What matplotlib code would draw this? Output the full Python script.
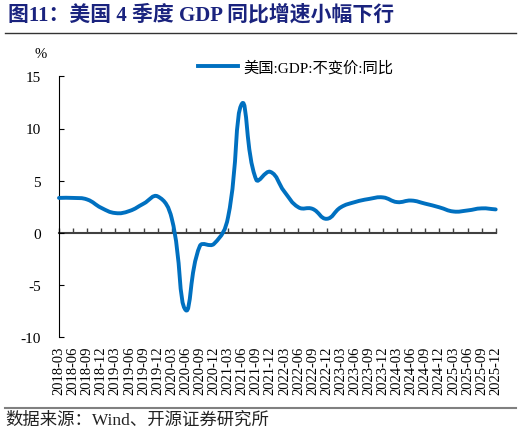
import matplotlib
matplotlib.use("Agg")
import math
import matplotlib.pyplot as plt
from matplotlib.path import Path
from matplotlib.patches import PathPatch
from matplotlib.lines import Line2D

# ---- data ----
categories = ["2018-03", "2018-06", "2018-09", "2018-12",
              "2019-03", "2019-06", "2019-09", "2019-12",
              "2020-03", "2020-06", "2020-09", "2020-12",
              "2021-03", "2021-06", "2021-09", "2021-12",
              "2022-03", "2022-06", "2022-09", "2022-12",
              "2023-03", "2023-06", "2023-09", "2023-12",
              "2024-03", "2024-06", "2024-09", "2024-12",
              "2025-03", "2025-06", "2025-09", "2025-12"]
gdp_yoy = [3.35, 3.35, 3.2, 2.4,
           1.9, 2.1, 2.8, 3.5,
           1.4, -7.4, -1.25, -1.05,
           1.5, 12.4, 5.1, 5.85,
           3.95, 2.45, 2.3, 1.35,
           2.45, 2.95, 3.25, 3.4,
           2.95, 3.1, 2.8, 2.45,
           2.05, 2.15, 2.35, 2.25]
series_name = "美国:GDP:不变价:同比"
y_ticks = [-10, -5, 0, 5, 10, 15]
title = "图11：美国 4 季度 GDP 同比增速小幅下行"
source = "数据来源：Wind、开源证券研究所"

FAM = ["Liberation Serif", "Noto Sans CJK SC"]
plt.rcParams["font.family"] = FAM
LINE_COLOR = "#0070C0"

W, H = 522, 439
AX_L, AX_R, AX_T, AX_B = 59, 495.7, 77.3, 338.3
fig = plt.figure(figsize=(W / 100, H / 100), dpi=100)
ax = fig.add_axes([AX_L / W, 1 - AX_B / H, (AX_R - AX_L) / W, (AX_B - AX_T) / H])

x = list(range(len(categories)))
YMIN, YMAX = -10, 15
sx = (AX_R - AX_L) / (len(categories) - 1)   # px per category
sy = (AX_B - AX_T) / (YMAX - YMIN)           # px per unit


def smooth_path(xs, ys, s=0.45):
    """Distance-weighted bezier smoothing (like office-chart smoothing)."""
    n = len(xs)
    cps = []
    for i in range(n):
        ip = max(i - 1, 0)
        inx = min(i + 1, n - 1)
        vx = xs[inx] - xs[ip]
        vy = ys[inx] - ys[ip]
        d0 = math.hypot((xs[i] - xs[ip]) * sx, (ys[i] - ys[ip]) * sy)
        d1 = math.hypot((xs[inx] - xs[i]) * sx, (ys[inx] - ys[i]) * sy)
        tot = d0 + d1 if d0 + d1 > 0 else 1
        r0 = d0 / tot
        r1 = d1 / tot
        cps.append(((xs[i] - vx * s * r0, ys[i] - vy * s * r0),
                    (xs[i] + vx * s * r1, ys[i] + vy * s * r1)))
    verts = [(xs[0], ys[0])]
    codes = [Path.MOVETO]
    for i in range(n - 1):
        verts += [cps[i][1], cps[i + 1][0], (xs[i + 1], ys[i + 1])]
        codes += [Path.CURVE4] * 3
    return Path(verts, codes)


patch = PathPatch(smooth_path(x, gdp_yoy), fill=False, edgecolor=LINE_COLOR,
                  linewidth=2.8, capstyle="round", joinstyle="round",
                  transform=ax.transData, zorder=3, clip_on=False)
ax.add_patch(patch)

ax.set_xlim(0, len(categories) - 1)
ax.set_ylim(YMIN, YMAX)
ax.set_yticks(y_ticks)
ax.set_yticklabels([str(v) for v in y_ticks])
ax.set_xticks(x)
ax.set_xticklabels(categories, rotation=90, fontsize=10.5)
ax.tick_params(axis="x", length=0, pad=6)
ax.tick_params(axis="y", direction="in", length=3.5, width=0.8, pad=13,
               labelsize=11, color="black")
for s in ["top", "right", "bottom"]:
    ax.spines[s].set_visible(False)
ax.spines["left"].set_linewidth(0.8)
ax.spines["left"].set_color("black")

# zero line with category ticks
secax = ax.secondary_xaxis((0 - YMIN) / (YMAX - YMIN))
secax.set_xticks(x)
secax.tick_params(axis="x", direction="in", length=3.5, width=1.0,
                  labelbottom=False, color="#404040")
secax.spines["bottom"].set_color("#404040")
secax.spines["bottom"].set_linewidth(1.5)

# legend
handle = Line2D([], [], color=LINE_COLOR, linewidth=2.8)
fig.legend([handle], [series_name], loc="center left",
           bbox_to_anchor=(198 / W, 1 - 68.5 / H), bbox_transform=fig.transFigure,
           frameon=False, fontsize=11, handlelength=2.6, handletextpad=0.35,
           borderpad=0, borderaxespad=0)

# unit label
fig.text(41 / W, 1 - 55 / H, "%", fontsize=10.5, ha="center", va="center")

# title and separators
fig.text(8 / W, 1 - 15 / H, title, fontsize=15, fontweight="bold",
         color="#1a237e", ha="left", va="center")
fig.add_artist(Line2D([5 / W, 516 / W], [1 - 33.5 / H] * 2,
                      transform=fig.transFigure, color="#333333", linewidth=1.0))
fig.add_artist(Line2D([5 / W, 516 / W], [1 - 409 / H] * 2,
                      transform=fig.transFigure, color="#808080", linewidth=1.5))
fig.text(5 / W, 1 - 421 / H, source, fontsize=12.5, color="#222222",
         ha="left", va="center")

fig.savefig("out.png", dpi=100)
